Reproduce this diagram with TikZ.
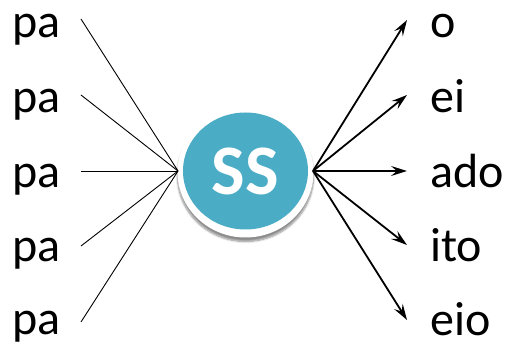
\documentclass[tikz,border=0pt]{standalone}
\usepackage{fontspec}
\setmainfont{Carlito}
\usetikzlibrary{arrows.meta,shadows.blur,shapes.geometric}
\definecolor{teal1}{HTML}{4BACC6}
\tikzset{
  lbl/.style={anchor=base west, inner sep=0pt, font=\fontsize{48}{48}\selectfont},
  thin line/.style={line width=0.9pt, black},
  arr/.style={line width=1.8pt, black, -{Stealth[length=16pt,width=10pt,inset=6pt]}},
  ring/.style={ellipse, fill=white, minimum width=136pt, minimum height=131pt, inner sep=0pt,
    blur shadow={shadow xshift=0pt, shadow yshift=-4pt, shadow blur steps=8, shadow opacity=45}},
  core/.style={ellipse, fill=teal1, minimum width=125pt, minimum height=117pt, inner sep=0pt,
    text=white, font=\fontsize{71}{71}\selectfont\bfseries}
}
\begin{document}
\begin{tikzpicture}[x=1pt,y=1pt]
\useasboundingbox (0,0) rectangle (511,350);
% left labels
\node[lbl] (pa1) at (12,312) {pa};
\node[lbl] (pa2) at (12,237) {pa};
\node[lbl] (pa3) at (12,162) {pa};
\node[lbl] (pa4) at (12,88.5) {pa};
\node[lbl] (pa5) at (12,15) {pa};
% right labels
\node[lbl] (r1) at (430,312) {o};
\node[lbl] (r2) at (430,237) {ei};
\node[lbl] (r3) at (430,162) {ado};
\node[lbl] (r4) at (430,88.5) {ito};
\node[lbl] (r5) at (430,14) {eio};
% hub
\node[ring] (outer) at (245.5,178) {};
\node[core] (ss) at (245.5,179) {SS};
\coordinate (hl) at (178,179);
\coordinate (hr) at (313,179);
% line starts
\coordinate (s1) at (81,331);
\coordinate (s2) at (81,255);
\coordinate (s3) at (81,179);
\coordinate (s4) at (81,104);
\coordinate (s5) at (81,28);
% arrow ends
\coordinate (e1) at (407,330);
\coordinate (e2) at (407,255);
\coordinate (e3) at (407,179);
\coordinate (e4) at (407,105);
\coordinate (e5) at (407,30);
\foreach \i in {1,...,5} {
  \draw[thin line] (s\i) -- (hl);
  \draw[arr] (hr) -- (e\i);
}
\end{tikzpicture}
\end{document}
